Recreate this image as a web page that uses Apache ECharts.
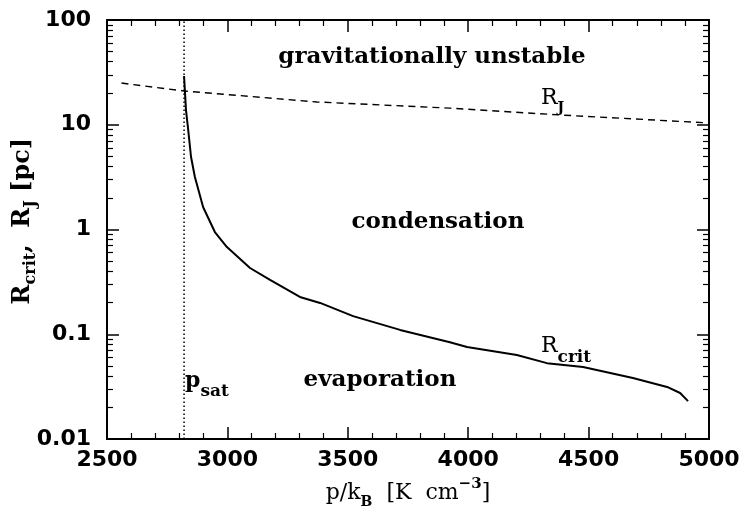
<!DOCTYPE html>
<html>
<head>
<meta charset="utf-8">
<script src="https://cdn.jsdelivr.net/npm/echarts@6/dist/echarts.min.js"></script>
<style>
  html, body { margin: 0; background: #fff; }
  #chart { width: 742px; height: 511px; }
</style>
</head>
<body>
<div id="chart"></div>
<script>
// axis ranges / ticks
const X_MIN = 2500
const X_MAX = 5000
const X_STEP = 500
const Y_MIN = 0.01
const Y_MAX = 100

// saturation pressure (dotted vertical line)
const PSAT = 2820

// R_crit curve
const rcritP = [2820, 2828, 2836, 2849, 2865, 2899, 2948, 2998, 3094, 3177, 3301, 3385, 3522, 3717, 3924, 3995, 4202, 4327, 4477, 4684, 4826, 4880, 4913]
const rcritR = [29.2, 13.8, 9.5, 4.92, 3.17, 1.64, 0.946, 0.68, 0.429, 0.33, 0.227, 0.199, 0.149, 0.11, 0.084, 0.0756, 0.0634, 0.053, 0.0487, 0.0382, 0.0314, 0.0275, 0.023]

// Jeans radius (dashed)
const rjP = [2560, 2820, 3372, 3924, 4381, 5000]
const rjR = [25.0, 21.0, 16.5, 14.4, 12.4, 10.4]

const zip = (xs, ys) => xs.map((x, i) => [x, ys[i]])

const SERIF = 'DejaVu Serif'
const SANS = 'DejaVu Sans'
const FH = 1.164 // DejaVu ascent + descent, in em

// rich styles: main text + subscript (s) + superscript (u)
// sub glyphs sit at the bottom of the line box, sup glyphs at the top,
// so the line height decides how far they move from the main text
function rich (size, weight, subSize, drop) {
  const lh = Math.max(2 * drop + FH * subSize, FH * size)
  return {
    m: { fontFamily: SERIF, fontSize: size, fontWeight: weight, lineHeight: lh, verticalAlign: 'middle', color: '#000' },
    s: { fontFamily: SERIF, fontSize: subSize, fontWeight: 'bold', verticalAlign: 'bottom', color: '#000' },
    u: { fontFamily: SERIF, fontSize: subSize + 1, fontWeight: 'bold', verticalAlign: 'top', color: '#000' }
  }
}

const axisCommon = {
  axisLine: { show: true, onZero: false, lineStyle: { color: '#000', width: 2 } },
  splitLine: { show: false },
  axisTick: { show: true, inside: true, length: 12, lineStyle: { color: '#000', width: 1.5 } },
  minorTick: { show: true, length: 6, lineStyle: { color: '#000', width: 1.2 } }
}

const xBase = {
  type: 'value', min: X_MIN, max: X_MAX, interval: X_STEP,
  ...axisCommon,
  minorTick: { ...axisCommon.minorTick, splitNumber: 5 }
}
const yBase = {
  type: 'log', logBase: 10, min: Y_MIN, max: Y_MAX,
  ...axisCommon,
  minorTick: { ...axisCommon.minorTick, splitNumber: 9 }
}

const option = {
  animation: false,
  backgroundColor: '#fff',
  grid: { left: 107, right: 33, top: 20, bottom: 72, containLabel: false, outerBoundsMode: 'none' },
  xAxis: [
    {
      ...xBase, position: 'bottom',
      axisLabel: { color: '#000', fontFamily: SANS, fontWeight: 'bold', fontSize: 22, margin: 10, formatter: v => String(v) },
      name: '{m|p/k}{s|B}{m|  [K  cm}{u|−3}{m|]}',
      nameLocation: 'middle', nameGap: 38, nameMoveOverlap: false,
      nameTextStyle: { rich: rich(22, 'normal', 14, 8) }
    },
    { ...xBase, position: 'top', axisLabel: { show: false } }
  ],
  yAxis: [
    {
      ...yBase, position: 'left',
      axisLabel: {
        color: '#000', fontFamily: SANS, fontWeight: 'bold', fontSize: 22, margin: 16,
        formatter: v => String(parseFloat(Number(v).toPrecision(3)))
      },
      name: '{m|  R}{s|crit}{m|,  R}{s|J}{m| [pc]}',
      nameLocation: 'middle', nameGap: 68, nameRotate: 90, nameMoveOverlap: false,
      nameTextStyle: { rich: rich(24, 'bold', 16, 7) }
    },
    { ...yBase, position: 'right', axisLabel: { show: false } }
  ],
  series: [
    {
      name: 'psat', type: 'line', showSymbol: false, silent: true,
      data: [[PSAT, Y_MIN], [PSAT, Y_MAX]],
      lineStyle: { color: '#000', width: 1.5, type: [1.5, 2.5] }
    },
    {
      name: 'R_J', type: 'line', showSymbol: false, silent: true,
      data: zip(rjP, rjR),
      lineStyle: { color: '#000', width: 1.4, type: [7, 5] }
    },
    {
      name: 'R_crit', type: 'line', showSymbol: false, silent: true,
      data: zip(rcritP, rcritR),
      lineStyle: { color: '#000', width: 2 }
    }
  ],
  graphic: [
    { type: 'text', x: 432, y: 57, style: { text: 'gravitationally unstable', fill: '#000', fontFamily: SERIF, fontWeight: 'bold', fontSize: 23, align: 'center', verticalAlign: 'middle' } },
    { type: 'text', x: 438, y: 222, style: { text: 'condensation', fill: '#000', fontFamily: SERIF, fontWeight: 'bold', fontSize: 23, align: 'center', verticalAlign: 'middle' } },
    { type: 'text', x: 380, y: 380, style: { text: 'evaporation', fill: '#000', fontFamily: SERIF, fontWeight: 'bold', fontSize: 23, align: 'center', verticalAlign: 'middle' } },
    { type: 'text', x: 541, y: 98, style: { text: '{m|R}{s|J}', rich: rich(22, 'normal', 14, 9), verticalAlign: 'middle' } },
    { type: 'text', x: 541, y: 346, style: { text: '{m|R}{s|crit}', rich: rich(22, 'normal', 17, 10), verticalAlign: 'middle' } },
    { type: 'text', x: 185, y: 381, style: { text: '{m|p}{s|sat}', rich: rich(22, 'bold', 17, 9), verticalAlign: 'middle' } }
  ]
}

const chart = echarts.init(document.getElementById('chart'), null, { renderer: 'canvas' })
chart.setOption(option)
</script>
</body>
</html>
